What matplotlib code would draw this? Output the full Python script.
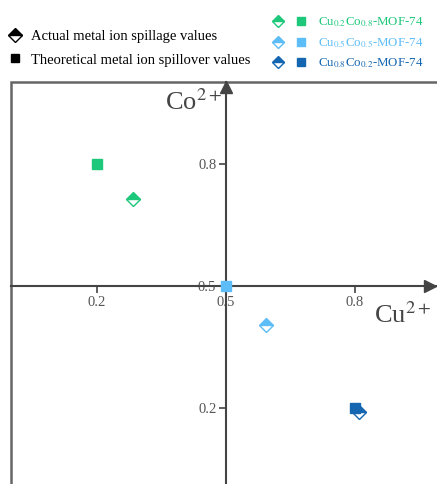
import matplotlib.pyplot as plt
from matplotlib.lines import Line2D
from matplotlib.legend_handler import HandlerTuple

plt.rcParams['font.family'] = ['Liberation Serif', 'DejaVu Serif']
plt.rcParams['mathtext.fontset'] = 'stix'

# samples
names = [r'Cu$_{0.2}$Co$_{0.8}$-MOF-74', r'Cu$_{0.5}$Co$_{0.5}$-MOF-74', r'Cu$_{0.8}$Co$_{0.2}$-MOF-74']
colors = ['#1dc87a', '#5cbdf7', '#1566b0']

# theoretical (squares) and actual (half diamonds) Cu / Co fractions
theo_cu = [0.2, 0.5, 0.8]
theo_co = [0.8, 0.5, 0.2]
act_cu = [0.284, 0.593, 0.81]
act_co = [0.714, 0.404, 0.19]

ticks = [0.2, 0.5, 0.8]
tick_labels = ['0.2', '0.5', '0.8']

fig = plt.figure(figsize=(4.37, 4.84), dpi=100)
ax = fig.add_axes([11 / 437, 1 - 82 / 484 - 408 / 484, 430 / 437, 408 / 484])
ax.set_xlim(0, 1)
ax.set_ylim(0, 1)

axis_col = '#444444'
for s in ['left', 'bottom']:
    ax.spines[s].set_position(('data', 0.5))
    ax.spines[s].set_color(axis_col)
    ax.spines[s].set_linewidth(1.5)
for s in ['top', 'right']:
    ax.spines[s].set_visible(False)
ax.patch.set_edgecolor('#666666')
ax.patch.set_linewidth(1.8)

ax.plot(0.975, 0.5, '>', color=axis_col, ms=8, clip_on=False, zorder=5)
ax.plot(0.5, 0.988, '^', color=axis_col, ms=8, clip_on=False, zorder=5)

ax.set_xticks(ticks)
ax.set_xticklabels(tick_labels)
ax.set_yticks(ticks)
ax.set_yticklabels(tick_labels)
ax.tick_params(direction='out', length=5, width=1.2, color=axis_col,
               labelsize=10.5, labelcolor='#555555', pad=2)

ax.text(0.49, 0.95, r'Co$^{2+}$', fontsize=19, color=axis_col, ha='right', va='center')
ax.text(0.845, 0.43, r'Cu$^{2+}$', fontsize=19, color=axis_col, ha='left', va='center')

for i in range(3):
    ax.plot(act_cu[i], act_co[i], marker='D', ls='none', color=colors[i],
            fillstyle='top', markerfacecoloralt='white', ms=7, mew=1, zorder=6)
    ax.plot(theo_cu[i], theo_co[i], marker='s', ls='none', color=colors[i], ms=7, zorder=7)

left_handles = [
    Line2D([], [], marker='D', ls='none', color='k', fillstyle='top',
           markerfacecoloralt='white', ms=7, mew=1),
    Line2D([], [], marker='s', ls='none', color='k', ms=6),
]
fig.legend(left_handles, ['Actual metal ion spillage values', 'Theoretical metal ion spillover values'],
           loc='upper left', bbox_to_anchor=(5 / 437, 1 - 27 / 484), frameon=False, fontsize=10.5,
           handlelength=1.0, handletextpad=0.6, borderaxespad=0, borderpad=0.2, labelspacing=0.7)

right_handles = []
for c in colors:
    d = Line2D([], [], marker='D', ls='none', color=c, fillstyle='top',
               markerfacecoloralt='white', ms=6, mew=1)
    q = Line2D([], [], marker='s', ls='none', color=c, ms=6)
    right_handles.append((d, q))
fig.legend(right_handles, names, loc='upper left', bbox_to_anchor=(270 / 437, 1 - 13 / 484),
           frameon=False, fontsize=9.3, labelcolor=colors,
           handler_map={tuple: HandlerTuple(ndivide=None, pad=1.0)},
           handlelength=2.6, handletextpad=0.9, borderaxespad=0, borderpad=0.2, labelspacing=0.52)

fig.savefig('out.png', dpi=100)
